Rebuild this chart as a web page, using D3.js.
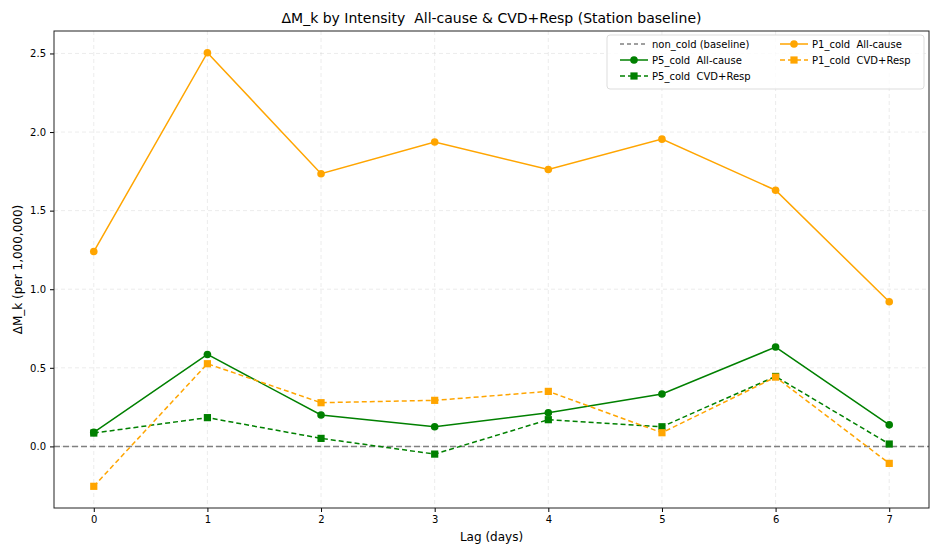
<!DOCTYPE html>
<html>
<head>
<meta charset="utf-8">
<script src="https://cdn.jsdelivr.net/npm/d3@7"></script>
<style>
  body { margin: 0; background: #fff; }
  text { font-family: "DejaVu Sans", sans-serif; fill: #000; white-space: pre; }
</style>
</head>
<body>
<div id="chart"></div>
<script>
// chart size
const width = 940,
  height = 550,
  margin = { top: 31, right: 11, bottom: 42, left: 54 }

// data
const lags = [0, 1, 2, 3, 4, 5, 6, 7]
const p5All = [0.089, 0.585, 0.200, 0.125, 0.214, 0.333, 0.632, 0.137]
const p5Cvd = [0.085, 0.183, 0.051, -0.049, 0.170, 0.125, 0.445, 0.015]
const p1All = [1.240, 2.505, 1.735, 1.937, 1.762, 1.955, 1.630, 0.920]
const p1Cvd = [-0.254, 0.526, 0.278, 0.293, 0.350, 0.087, 0.441, -0.108]
const yTicks = [0.0, 0.5, 1.0, 1.5, 2.0, 2.5]

const series = [
  { name: 'P5_cold  All-cause', values: p5All, color: 'green', dash: null, marker: 'circle' },
  { name: 'P5_cold  CVD+Resp', values: p5Cvd, color: 'green', dash: '5,3', marker: 'square' },
  { name: 'P1_cold  All-cause', values: p1All, color: 'orange', dash: null, marker: 'circle' },
  { name: 'P1_cold  CVD+Resp', values: p1Cvd, color: 'orange', dash: '5,3', marker: 'square' }
]

let svg = d3.select('#chart')
  .append('svg')
  .attr('width', width)
  .attr('height', height)

const allVals = [].concat(p5All, p5Cvd, p1All, p1Cvd)
const yMin = d3.min(allVals), yMax = d3.max(allVals)
const yPad = (yMax - yMin) * 0.05

const x = d3.scaleLinear()
  .domain([-0.35, 7.35])
  .range([margin.left, width - margin.right])
const y = d3.scaleLinear()
  .domain([yMin - yPad, yMax + yPad])
  .range([height - margin.bottom, margin.top])

// grid
svg.append('g')
  .selectAll('line')
  .data(lags)
  .enter()
  .append('line')
  .attr('x1', d => x(d)).attr('x2', d => x(d))
  .attr('y1', margin.top).attr('y2', height - margin.bottom)
  .attr('stroke', '#b0b0b0').attr('stroke-opacity', 0.3)
  .attr('stroke-dasharray', '4,3').attr('stroke-width', 0.8)
svg.append('g')
  .selectAll('line')
  .data(yTicks)
  .enter()
  .append('line')
  .attr('x1', margin.left).attr('x2', width - margin.right)
  .attr('y1', d => y(d)).attr('y2', d => y(d))
  .attr('stroke', '#b0b0b0').attr('stroke-opacity', 0.3)
  .attr('stroke-dasharray', '4,3').attr('stroke-width', 0.8)

// baseline
svg.append('line')
  .attr('x1', margin.left).attr('x2', width - margin.right)
  .attr('y1', y(0)).attr('y2', y(0))
  .attr('stroke', 'gray').attr('stroke-width', 1.5)
  .attr('stroke-dasharray', '6,3')

const line = d3.line()
  .x((d, i) => x(lags[i]))
  .y(d => y(d))

series.forEach(s => {
  svg.append('path')
    .datum(s.values)
    .attr('d', line)
    .attr('fill', 'none')
    .attr('stroke', s.color)
    .attr('stroke-width', 1.5)
    .attr('stroke-dasharray', s.dash)
  let g = svg.append('g')
  if (s.marker === 'circle') {
    g.selectAll('circle')
      .data(s.values)
      .enter()
      .append('circle')
      .attr('cx', (d, i) => x(lags[i]))
      .attr('cy', d => y(d))
      .attr('r', 3.8)
      .attr('fill', s.color)
  } else {
    g.selectAll('rect')
      .data(s.values)
      .enter()
      .append('rect')
      .attr('x', (d, i) => x(lags[i]) - 3.6)
      .attr('y', d => y(d) - 3.6)
      .attr('width', 7.2).attr('height', 7.2)
      .attr('fill', s.color)
  }
})

// axes
let axisX = d3.axisBottom(x).tickValues(lags).tickFormat(d3.format('d')).tickSize(4).tickPadding(4)
let axisY = d3.axisLeft(y).tickValues(yTicks).tickFormat(d3.format('.1f')).tickSize(4).tickPadding(4)

svg.append('g')
  .attr('transform', `translate(0, ${height - margin.bottom})`)
  .call(axisX)
  .call(g => g.select('.domain').remove())
  .selectAll('text').style('font-size', '10px')
svg.append('g')
  .attr('transform', `translate(${margin.left}, 0)`)
  .call(axisY)
  .call(g => g.select('.domain').remove())
  .selectAll('text').style('font-size', '10px')

svg.append('rect')
  .attr('x', margin.left).attr('y', margin.top)
  .attr('width', width - margin.left - margin.right)
  .attr('height', height - margin.top - margin.bottom)
  .attr('fill', 'none').attr('stroke', '#222').attr('stroke-width', 1)

// labels
svg.append('text')
  .attr('x', (margin.left + width - margin.right) / 2)
  .attr('y', 23)
  .attr('text-anchor', 'middle')
  .style('font-size', '14px')
  .text('ΔM_k by Intensity  All-cause & CVD+Resp (Station baseline)')
svg.append('text')
  .attr('x', (margin.left + width - margin.right) / 2)
  .attr('y', 541)
  .attr('text-anchor', 'middle')
  .style('font-size', '12px')
  .text('Lag (days)')
svg.append('text')
  .attr('transform', `translate(22, ${(margin.top + height - margin.bottom) / 2}) rotate(-90)`)
  .attr('text-anchor', 'middle')
  .style('font-size', '12px')
  .text('ΔM_k (per 1,000,000)')

// legend
const legendItems = [
  { name: 'non_cold (baseline)', color: 'gray', dash: '4,3', marker: null, col: 0, row: 0 },
  { ...series[0], col: 0, row: 1 },
  { ...series[1], col: 0, row: 2 },
  { ...series[2], col: 1, row: 0 },
  { ...series[3], col: 1, row: 1 }
]
let legend = svg.append('g')
legend.append('rect')
  .attr('x', 607).attr('y', 35).attr('width', 317).attr('height', 54)
  .attr('rx', 3)
  .attr('fill', 'white').attr('fill-opacity', 0.8)
  .attr('stroke', '#ddd')
legendItems.forEach(it => {
  let lx = it.col === 0 ? 620 : 780
  let ly = 44 + it.row * 16
  legend.append('line')
    .attr('x1', lx).attr('x2', lx + 28)
    .attr('y1', ly).attr('y2', ly)
    .attr('stroke', it.color).attr('stroke-width', 1.5)
    .attr('stroke-dasharray', it.dash)
  if (it.marker === 'circle') {
    legend.append('circle').attr('cx', lx + 14).attr('cy', ly).attr('r', 3.8).attr('fill', it.color)
  } else if (it.marker === 'square') {
    legend.append('rect').attr('x', lx + 10.4).attr('y', ly - 3.6).attr('width', 7.2).attr('height', 7.2).attr('fill', it.color)
  }
  legend.append('text')
    .attr('x', lx + 32).attr('y', ly + 3.5)
    .style('font-size', '10px')
    .text(it.name)
})
</script>
</body>
</html>
